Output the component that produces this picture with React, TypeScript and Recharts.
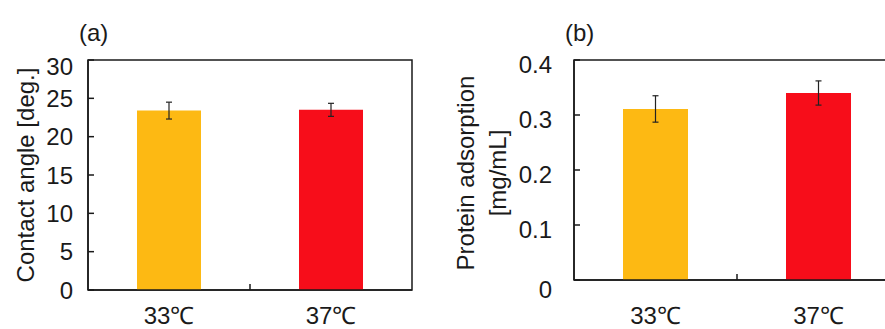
import React from 'react';
import { BarChart, Bar, XAxis, YAxis, ErrorBar, ReferenceArea, Cell, Label } from 'recharts';

// conditions and colours shared by both panels
const temps = ['33℃', '37℃'];
const barColors = ['#FDB913', '#F70D1A'];

// (a) contact angle
const contactAngle = [23.4, 23.5];
const contactAngleErr = [1.1, 0.85];
const angleTicks = [0, 5, 10, 15, 20, 25, 30];

// (b) protein adsorption
const proteinAds = [0.311, 0.34];
const proteinAdsErr = [0.024, 0.022];
const proteinTicks = [0, 0.1, 0.2, 0.3, 0.4];

// categories sit at 0.5 / 1.5, the divider tick at 1
const xTicks = [0.5, 1, 1.5];

const FONT = '"Liberation Sans", Arial, sans-serif';
const INK = '#1a1a1a';

const toRows = (vals: number[], errs: number[]) =>
  vals.map((v, i) => ({ pos: i + 0.5, name: temps[i], value: v, err: errs[i] }));

const angleRows = toRows(contactAngle, contactAngleErr);
const proteinRows = toRows(proteinAds, proteinAdsErr);

function XTick({ x, y, payload, gap }: any) {
  const v = payload.value;
  if (v % 1 === 0) {
    return <line x1={x} x2={x} y1={y} y2={y - 6} stroke={INK} strokeWidth={1.5} />;
  }
  return (
    <text x={x} y={y + gap} dy="0.36em" textAnchor="middle" fontSize={24} fontFamily={FONT} fill={INK}>
      {temps[Math.floor(v)]}
    </text>
  );
}

function YTick({ x, y, payload, shift }: any) {
  return (
    <text x={x} y={y + shift(payload.value)} dy="0.36em" textAnchor="end" fontSize={24} fontFamily={FONT} fill={INK}>
      {String(payload.value)}
    </text>
  );
}

const textStyle = { fontSize: 24, fontFamily: FONT, fill: INK };

export default function App() {
  return (
    <div style={{ position: 'absolute', left: 0, top: 0, width: 885, height: 329, overflow: 'hidden', background: '#fff' }}>
      <div style={{ position: 'absolute', left: 79, top: 21, fontSize: 24, lineHeight: 1, fontFamily: FONT, color: INK }}>(a)</div>
      <div style={{ position: 'absolute', left: 565, top: 21, fontSize: 24, lineHeight: 1, fontFamily: FONT, color: INK }}>(b)</div>

      <div style={{ position: 'absolute', left: 0, top: 0 }}>
        <BarChart width={430} height={329} data={angleRows} margin={{ top: 60, right: 18, bottom: 0, left: 0 }}>
          <XAxis
            dataKey="pos"
            type="number"
            domain={[0, 2]}
            ticks={xTicks}
            interval={0}
            height={39}
            tickSize={0}
            tickMargin={0}
            tickLine={false}
            axisLine={{ stroke: INK, strokeWidth: 1.5 }}
            tick={(p: any) => <XTick {...p} gap={25} />}
          />
          <YAxis
            type="number"
            domain={[0, 30]}
            ticks={angleTicks}
            interval={0}
            width={88}
            tickSize={-6}
            tickMargin={21}
            tickLine={{ stroke: INK, strokeWidth: 1.5 }}
            axisLine={{ stroke: INK, strokeWidth: 1.5 }}
            tick={(p: any) => <YTick {...p} shift={(v: number) => (v === 30 ? 6 : 0)} />}
          >
            <Label
              content={({ viewBox }: any) => (
                <text
                  transform={`translate(${viewBox.x + 25},${viewBox.y + viewBox.height / 2}) rotate(-90)`}
                  textAnchor="middle"
                  dy="0.36em"
                  {...textStyle}
                >
                  Contact angle [deg.]
                </text>
              )}
            />
          </YAxis>
          <ReferenceArea x1={0} x2={2} y1={0} y2={30} fill="none" stroke={INK} strokeWidth={1.5} />
          <Bar dataKey="value" barSize={64} isAnimationActive={false}>
            {angleRows.map((r, i) => (
              <Cell key={r.name} fill={barColors[i]} />
            ))}
            <ErrorBar dataKey="err" width={3} stroke="#222" strokeWidth={1.2} isAnimationActive={false} />
          </Bar>
        </BarChart>
      </div>

      <div style={{ position: 'absolute', left: 440, top: 0 }}>
        <BarChart width={470} height={329} data={proteinRows} margin={{ top: 60, right: 10, bottom: 0, left: 0 }}>
          <XAxis
            dataKey="pos"
            type="number"
            domain={[0, 2]}
            ticks={xTicks}
            interval={0}
            height={49}
            tickSize={0}
            tickMargin={0}
            tickLine={false}
            axisLine={{ stroke: INK, strokeWidth: 1.5 }}
            tick={(p: any) => <XTick {...p} gap={35} />}
          />
          <YAxis
            type="number"
            domain={[0, 0.4]}
            ticks={proteinTicks}
            interval={0}
            width={134}
            tickSize={-6}
            tickMargin={28}
            tickLine={{ stroke: INK, strokeWidth: 1.5 }}
            axisLine={{ stroke: INK, strokeWidth: 1.5 }}
            tick={(p: any) => <YTick {...p} shift={(v: number) => (v === 0 ? 9 : 4)} />}
          >
            <Label
              content={({ viewBox }: any) => (
                <g transform={`translate(${viewBox.x},${viewBox.y + viewBox.height / 2 + 3})`}>
                  <text transform="translate(25,0) rotate(-90)" textAnchor="middle" dy="0.36em" {...textStyle}>
                    Protein adsorption
                  </text>
                  <text transform="translate(57,0) rotate(-90)" textAnchor="middle" dy="0.36em" {...textStyle}>
                    [mg/mL]
                  </text>
                </g>
              )}
            />
          </YAxis>
          <ReferenceArea x1={0} x2={2} y1={0} y2={0.4} fill="none" stroke={INK} strokeWidth={1.5} />
          <Bar dataKey="value" barSize={65} isAnimationActive={false}>
            {proteinRows.map((r, i) => (
              <Cell key={r.name} fill={barColors[i]} />
            ))}
            <ErrorBar dataKey="err" width={3} stroke="#222" strokeWidth={1.2} isAnimationActive={false} />
          </Bar>
        </BarChart>
      </div>
    </div>
  );
}
